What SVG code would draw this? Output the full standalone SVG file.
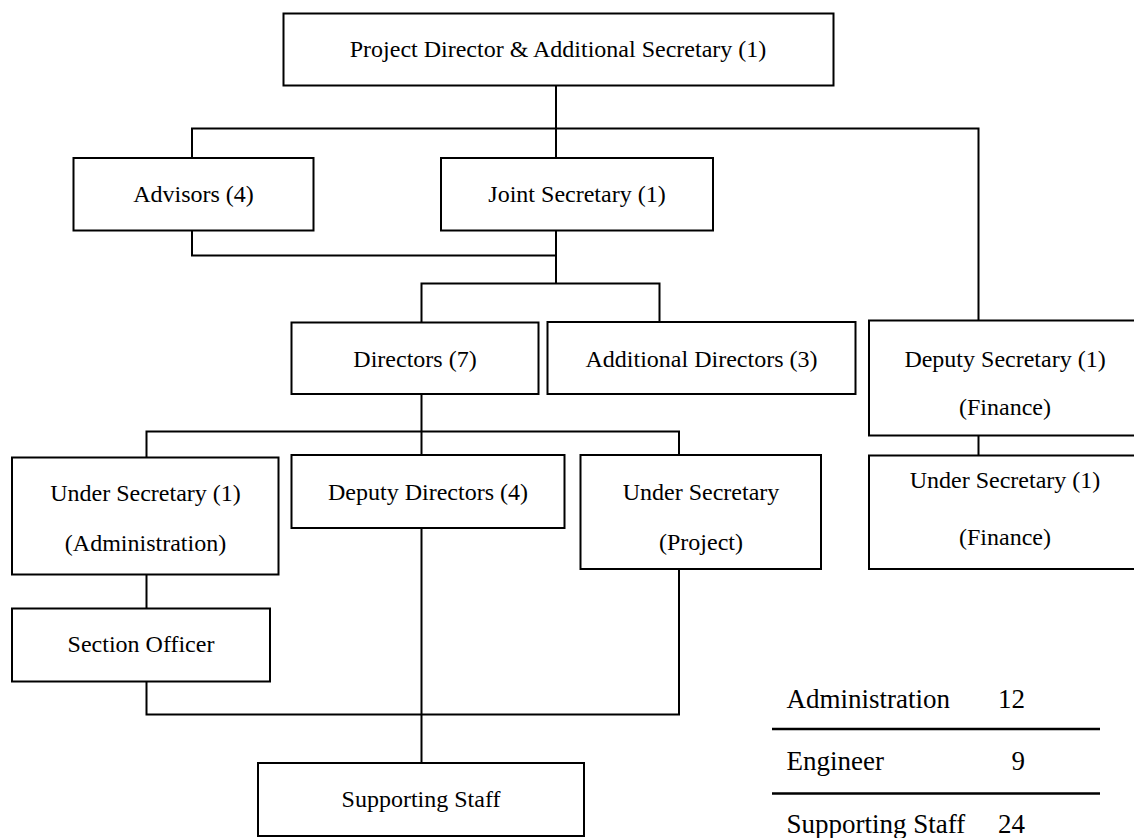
<svg xmlns="http://www.w3.org/2000/svg" width="1134" height="838" viewBox="0 0 1134 838">
  <style>
    .box { fill: #ffffff; stroke: #000000; stroke-width: 2; }
    .wire { fill: none; stroke: #000000; stroke-width: 2; }
    .lbl { font-family: "Liberation Serif", "Times New Roman", serif; font-size: 24px; fill: #000000; text-anchor: middle; }
    .key { font-family: "Liberation Serif", "Times New Roman", serif; font-size: 27px; fill: #000000; }
    .num { text-anchor: end; }
    .rule { stroke: #000000; stroke-width: 2.5; }
  </style>
  <rect width="1134" height="838" fill="#ffffff"/>

  <!-- reporting lines -->
  <g id="connectors">
    <path class="wire" d="M556 86 V158"/>
    <path class="wire" d="M192 158 V128.5 H978.5 V320.5"/>
    <path class="wire" d="M192 231 V255.5 H556"/>
    <path class="wire" d="M556 231 V283.5"/>
    <path class="wire" d="M421.5 322.5 V283.5 H659.5 V322"/>
    <path class="wire" d="M421.5 394 V431.5"/>
    <path class="wire" d="M146.5 457.5 V431.5 H679 V455"/>
    <path class="wire" d="M421.5 431.5 V455"/>
    <path class="wire" d="M146.5 574.5 V608.5"/>
    <path class="wire" d="M146.5 682 V714.5 H679 V569"/>
    <path class="wire" d="M421.5 528 V763"/>
    <path class="wire" d="M978.5 435.5 V455.5"/>
  </g>

  <g id="project-director">
    <rect class="box" x="283.5" y="13.5" width="550" height="72"/>
    <text class="lbl" x="558" y="57">Project Director &amp; Additional Secretary (1)</text>
  </g>
  <g id="advisors">
    <rect class="box" x="73.5" y="158" width="240" height="72.5"/>
    <text class="lbl" x="193.5" y="202">Advisors (4)</text>
  </g>
  <g id="joint-secretary">
    <rect class="box" x="441" y="158" width="272" height="72.5"/>
    <text class="lbl" x="577" y="202">Joint Secretary (1)</text>
  </g>
  <g id="directors">
    <rect class="box" x="291.5" y="322.5" width="247" height="71.5"/>
    <text class="lbl" x="415" y="366.5">Directors (7)</text>
  </g>
  <g id="additional-directors">
    <rect class="box" x="547.5" y="322" width="308" height="72"/>
    <text class="lbl" x="701.5" y="366.5">Additional Directors (3)</text>
  </g>
  <g id="deputy-secretary-finance">
    <rect class="box" x="869" y="320.5" width="272" height="115"/>
    <text class="lbl" x="1005" y="367">Deputy Secretary (1)</text>
    <text class="lbl" x="1005" y="415">(Finance)</text>
  </g>
  <g id="under-secretary-admin">
    <rect class="box" x="12" y="457.5" width="266.5" height="117"/>
    <text class="lbl" x="145.5" y="501">Under Secretary (1)</text>
    <text class="lbl" x="145.5" y="551">(Administration)</text>
  </g>
  <g id="deputy-directors">
    <rect class="box" x="291.5" y="455" width="273" height="73"/>
    <text class="lbl" x="428" y="500">Deputy Directors (4)</text>
  </g>
  <g id="under-secretary-project">
    <rect class="box" x="580.5" y="455" width="240.5" height="114"/>
    <text class="lbl" x="701" y="500">Under Secretary</text>
    <text class="lbl" x="701" y="550">(Project)</text>
  </g>
  <g id="under-secretary-finance">
    <rect class="box" x="869" y="455.5" width="272" height="113.5"/>
    <text class="lbl" x="1005" y="488">Under Secretary (1)</text>
    <text class="lbl" x="1005" y="545">(Finance)</text>
  </g>
  <g id="section-officer">
    <rect class="box" x="12" y="608.5" width="258" height="73"/>
    <text class="lbl" x="141" y="652">Section Officer</text>
  </g>
  <g id="supporting-staff">
    <rect class="box" x="258" y="763" width="326" height="73"/>
    <text class="lbl" x="421" y="807">Supporting Staff</text>
  </g>

  <!-- staff totals -->
  <g id="staff-totals">
    <text class="key" x="786.5" y="708">Administration</text>
    <text class="key num" x="1025" y="708">12</text>
    <line class="rule" x1="772" y1="729" x2="1100" y2="729"/>
    <text class="key" x="786.5" y="770">Engineer</text>
    <text class="key num" x="1025" y="770">9</text>
    <line class="rule" x1="772" y1="793.5" x2="1100" y2="793.5"/>
    <text class="key" x="786.5" y="833">Supporting Staff</text>
    <text class="key num" x="1025" y="833">24</text>
  </g>
</svg>
